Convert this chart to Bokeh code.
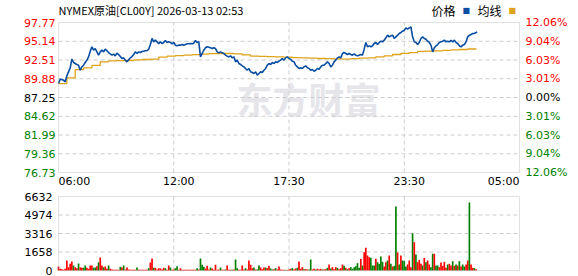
from bokeh.plotting import figure
from bokeh.models import Range1d, Label, ColumnDataSource, BoxAnnotation
from bokeh.layouts import column
from bokeh.embed import file_html
from bokeh.resources import INLINE

# ---------------- data ----------------
title_text = "NYMEX原油[CL00Y] 2026-03-13 02:53"
prev_close = 87.25
price_ticks = [97.77, 95.14, 92.51, 89.88, 87.25, 84.62, 81.99, 79.36, 76.73]
pct_labels = ["12.06%", "9.04%", "6.03%", "3.01%", "0.00%", "3.01%", "6.03%", "9.04%", "12.06%"]
vol_ticks = [6632, 4974, 3316, 1658, 0]
time_ticks = [0, 360, 690, 1050, 1380]          # minutes after 06:00
time_labels = ["06:00", "12:00", "17:30", "23:30", "05:00"]
grid_minutes = [345, 690, 1035]
session_minutes = 1380

price_minutes = list(range(0, 1251, 5)) + [1253]
price = [
    89.21, 89.82, 89.77, 89.68, 89.45, 90.29, 90.85, 91.41, 92.63, 92.16,
    92.02, 91.88, 91.78, 91.08, 91.55, 91.78, 92.16, 92.49, 92.95, 93.75,
    94.36, 93.89, 94.12, 93.65, 93.19, 93.65, 93.89, 93.65, 94.03, 93.80,
    93.56, 93.37, 93.19, 93.33, 93.09, 93.47, 93.28, 93.00, 92.72, 92.81,
    92.49, 92.25, 92.53, 92.81, 93.00, 93.28, 93.65, 93.42, 93.65, 93.56,
    93.70, 93.75, 93.80, 93.84, 94.03, 94.68, 95.53, 95.06, 95.29, 95.06,
    94.78, 95.06, 94.83, 94.97, 95.25, 94.97, 95.06, 94.97, 94.78, 94.97,
    94.59, 94.50, 94.59, 94.59, 94.68, 94.59, 94.68, 94.78, 94.78, 94.83,
    94.78, 94.87, 95.25, 94.97, 95.06, 92.95, 93.42, 93.89, 94.22, 94.36,
    94.31, 94.22, 94.12, 94.22, 94.12, 93.65, 93.51, 93.65, 93.51, 93.42,
    93.19, 93.05, 92.95, 93.09, 92.81, 92.95, 92.25, 92.49, 92.02, 91.88,
    91.69, 91.55, 91.32, 91.08, 91.32, 90.85, 90.76, 90.61, 90.85, 90.38,
    90.61, 90.85, 90.76, 91.08, 91.32, 91.78, 92.02, 91.88, 92.16, 92.02,
    92.25, 92.16, 92.35, 92.49, 92.72, 92.49, 92.81, 92.95, 92.72, 92.63,
    92.35, 92.25, 91.78, 91.55, 91.32, 91.41, 91.32, 91.55, 91.69, 91.41,
    91.32, 91.08, 91.18, 90.94, 91.08, 91.32, 91.22, 91.55, 91.78, 91.78,
    92.02, 92.25, 92.02, 91.55, 91.78, 92.25, 92.49, 92.81, 92.95, 92.81,
    93.42, 93.56, 93.42, 93.28, 93.42, 93.28, 93.19, 93.37, 93.19, 93.09,
    93.19, 93.28, 93.19, 94.03, 94.97, 94.36, 94.50, 94.36, 94.50, 94.83,
    94.97, 94.68, 94.97, 95.15, 95.06, 95.29, 95.62, 95.99, 95.76, 95.90,
    95.99, 95.53, 95.76, 95.99, 96.23, 96.37, 96.55, 96.69, 97.02, 96.83,
    97.02, 97.16, 95.76, 95.06, 94.97, 94.68, 94.97, 95.53, 95.76, 95.53,
    95.43, 95.15, 94.97, 94.59, 93.65, 94.22, 94.50, 94.68, 94.97, 95.06,
    95.15, 95.29, 95.06, 95.15, 95.06, 95.25, 95.06, 95.29, 94.97, 94.83,
    94.50, 94.36, 94.59, 94.68, 95.06, 95.76, 95.99, 96.09, 96.23, 96.23,
    96.37, 96.46,
]

avg_minutes = list(range(0, 1251, 25))
avg = [
    89.21, 90.00, 91.15, 91.41, 91.75, 92.25, 92.38, 92.42, 92.44, 92.53,
    92.58, 92.63, 92.90, 93.05, 93.12, 93.19, 93.26, 93.33, 93.40, 93.42,
    93.42, 93.38, 93.22, 93.05, 93.02, 92.98, 92.94, 92.90, 92.84, 92.80,
    92.76, 92.72, 92.70, 92.66, 92.63, 92.70, 92.76, 92.80, 92.95, 93.09,
    93.28, 93.45, 93.55, 93.72, 93.75, 93.80, 93.85, 93.92, 93.98, 94.05,
    94.12,
]

vol_minutes = list(range(0, 1251, 5))
vol = [
    358, 150, 120, 60, 150, 896, 300, 597, 806, 448,
    300, 210, 627, 300, 240, 240, 448, 240, 150, 448,
    448, 240, 270, 390, 747, 1165, 448, 300, 360, 150,
    448, 150, 90, 60, 60, 60, 60, 330, 270, 448,
    90, 270, 90, 60, 60, 60, 60, 270, 60, 60,
    60, 60, 60, 60, 210, 717, 1075, 240, 240, 90,
    210, 180, 90, 240, 210, 60, 448, 270, 60, 90,
    210, 388, 60, 210, 60, 60, 60, 60, 60, 60,
    60, 60, 60, 210, 90, 1075, 508, 330, 180, 418,
    90, 270, 180, 60, 508, 60, 90, 270, 60, 60,
    90, 448, 60, 60, 60, 90, 986, 210, 60, 60,
    448, 90, 210, 90, 896, 508, 210, 270, 90, 90,
    448, 270, 120, 270, 270, 210, 418, 180, 90, 120,
    210, 90, 358, 90, 60, 60, 60, 60, 90, 150,
    210, 90, 180, 240, 806, 150, 300, 120, 120, 90,
    90, 986, 90, 150, 90, 150, 90, 150, 90, 90,
    120, 240, 537, 180, 300, 120, 300, 240, 120, 210,
    537, 418, 240, 120, 210, 300, 150, 300, 388, 657,
    240, 1045, 448, 1643, 2031, 1344, 1195, 1135, 448, 448,
    1045, 747, 597, 1254, 776, 358, 747, 896, 1344, 597,
    358, 418, 5734, 1613, 537, 1344, 896, 836, 358, 537,
    896, 300, 3345, 2539, 1434, 747, 956, 597, 448, 1135,
    747, 896, 537, 300, 1493, 1493, 448, 448, 300, 717,
    418, 777, 240, 537, 597, 448, 836, 418, 537, 448,
    836, 358, 537, 358, 537, 896, 6093, 537, 240, 210, 120,
]
vol_dir = ("rrrrrrrrrg" "rrgrrggrrr" "rggrgrrgrr" "grrrrrrgrg" "rrrrrrrgrr"
           "rrrrgrrgrr" "rrrrgrrgrr" "ggrrrrrrrr" "rrrgrgggrr" "rgrrrrrgrr"
           "grrrgrggrr" "rrgrrrrgrg" "grrrgrrggr" "grrrrrgrrr" "grrgrrrgrr"
           "ggrrgrrrgr" "rgrgrrrgrr" "rgrgrggggg" "grgrrrrggg" "rggggrrgrg"
           "rggrgrgggr" "rrgrgrrrgr" "grrggrggrr" "rrrgrrgrgr" "grggrrgrrgr")
assert len(price) == len(price_minutes)
assert len(avg) == len(avg_minutes)
assert len(vol) == len(vol_minutes) == len(vol_dir)

# ---------------- layout / style ----------------
W = 578
LEFT, RIGHT = 58, 59            # plot area inset inside canvas
H1, TOP1, BOT1 = 190, 22, 18    # price canvas height, top/bottom inset
H2, TOP2, BOT2 = 86, 6, 6       # volume canvas height, top/bottom inset
BLUE = "#0a4ea2"
GOLD = "#dfa31b"
RED = "#ff0000"
GREEN = "#008000"
GRIDC = "#cccccc"
FRAMEC = "#999999"
NUMFONT = "DejaVu Sans"
NUMSIZE = "11px"

def tick_color(v):
    if v > prev_close + 1e-9:
        return RED
    if v < prev_close - 1e-9:
        return GREEN
    return "#000000"

mpp = session_minutes / (W - LEFT - RIGHT)     # minutes per pixel
x_range = Range1d(-LEFT * mpp, session_minutes + RIGHT * mpp)

def make_fig(H, top, bot, lo, hi):
    upp = (hi - lo) / (H - top - bot)
    f = figure(width=W, height=H, x_range=x_range,
               y_range=Range1d(lo - bot * upp, hi + top * upp),
               x_axis_location=None, y_axis_location=None, toolbar_location=None,
               output_backend="svg", min_border=0, title=None)
    f.xgrid.visible = False
    f.ygrid.visible = False
    f.outline_line_color = None
    f.background_fill_color = "white"
    f.border_fill_color = "white"
    return f

# ---------------- price figure ----------------
p_lo, p_hi = price_ticks[-1], price_ticks[0]
p = make_fig(H1, TOP1, BOT1, p_lo, p_hi)

inner = price_ticks[1:-1]
p.segment(x0=[0] * len(inner), x1=[session_minutes] * len(inner), y0=inner, y1=inner,
          line_color=GRIDC, line_dash="4 3", line_width=1)
p.segment(x0=grid_minutes, x1=grid_minutes, y0=[p_lo] * 3, y1=[p_hi] * 3,
          line_color=GRIDC, line_dash="4 3", line_width=1)

# watermark
p.add_layout(Label(x=236, y=H1 - 97, x_units="screen", y_units="screen", text="东方财富",
                   text_font="Noto Sans CJK SC", text_font_style="bold", text_font_size="36px",
                   text_color="#e5e5ea", text_baseline="middle", level="underlay"))

p.step(avg_minutes, avg, mode="after", line_color=GOLD, line_width=1.3)
p.line(price_minutes, price, line_color=BLUE, line_width=1.6)
p.add_layout(BoxAnnotation(left=0, right=session_minutes, bottom=p_lo, top=p_hi,
                           fill_color=None, line_color=FRAMEC, line_width=1))

for v in price_ticks:
    p.add_layout(Label(x=LEFT - 3, y=v, x_units="screen", y_units="data", text=f"{v:.2f}",
                       text_align="right", text_baseline="middle", text_font=NUMFONT,
                       text_font_size=NUMSIZE, text_color=tick_color(v)))
for v, t in zip(price_ticks, pct_labels):
    p.add_layout(Label(x=W - RIGHT + 6, y=v, x_units="screen", y_units="data", text=t,
                       text_align="left", text_baseline="middle", text_font=NUMFONT,
                       text_font_size=NUMSIZE, text_color=tick_color(v)))
aligns = ["left", "center", "center", "center", "right"]
for m, t, a in zip(time_ticks, time_labels, aligns):
    p.add_layout(Label(x=m, y=H1 - 181, x_units="data", y_units="screen", text=t,
                       text_align=a, text_baseline="middle", text_font=NUMFONT,
                       text_font_size=NUMSIZE, text_color="#000000"))

p.add_layout(Label(x=LEFT, y=H1 - 9, x_units="screen", y_units="screen", text=title_text,
                   text_align="left", text_baseline="middle", text_font="Noto Sans CJK SC",
                   text_font_size="11px", text_color="#000000"))
for txt, xx, col, font, size in [("价格", 431, "#000000", "Noto Sans CJK SC", "12px"),
                                 ("■", 462, BLUE, "DejaVu Sans", "8px"),
                                 ("均线", 477, "#000000", "Noto Sans CJK SC", "12px"),
                                 ("■", 508, GOLD, "DejaVu Sans", "8px")]:
    p.add_layout(Label(x=xx, y=H1 - 10, x_units="screen", y_units="screen", text=txt,
                       text_align="left", text_baseline="middle", text_font=font,
                       text_font_size=size, text_color=col))

# ---------------- volume figure ----------------
v_lo, v_hi = vol_ticks[-1], vol_ticks[0]
q = make_fig(H2, TOP2, BOT2, v_lo, v_hi)
vin = vol_ticks[1:-1]
q.segment(x0=[0] * len(vin), x1=[session_minutes] * len(vin), y0=vin, y1=vin,
          line_color=GRIDC, line_dash="4 3", line_width=1)
q.segment(x0=grid_minutes, x1=grid_minutes, y0=[v_lo] * 3, y1=[v_hi] * 3,
          line_color=GRIDC, line_dash="4 3", line_width=1)

src = ColumnDataSource(dict(x=vol_minutes, top=vol,
                            color=[RED if d == "r" else GREEN for d in vol_dir]))
q.vbar(x="x", top="top", bottom=0, width=5, source=src, fill_color="color", line_color=None)
q.add_layout(BoxAnnotation(left=0, right=session_minutes, bottom=v_lo, top=v_hi,
                           fill_color=None, line_color=FRAMEC, line_width=1))

for v in vol_ticks:
    q.add_layout(Label(x=LEFT - 6, y=v, x_units="screen", y_units="data", text=str(v),
                       text_align="right", text_baseline="middle", text_font=NUMFONT,
                       text_font_size=NUMSIZE, text_color="#000000"))

layout = column(p, q, spacing=0)
open("out.html", "w").write(file_html(layout, INLINE))
